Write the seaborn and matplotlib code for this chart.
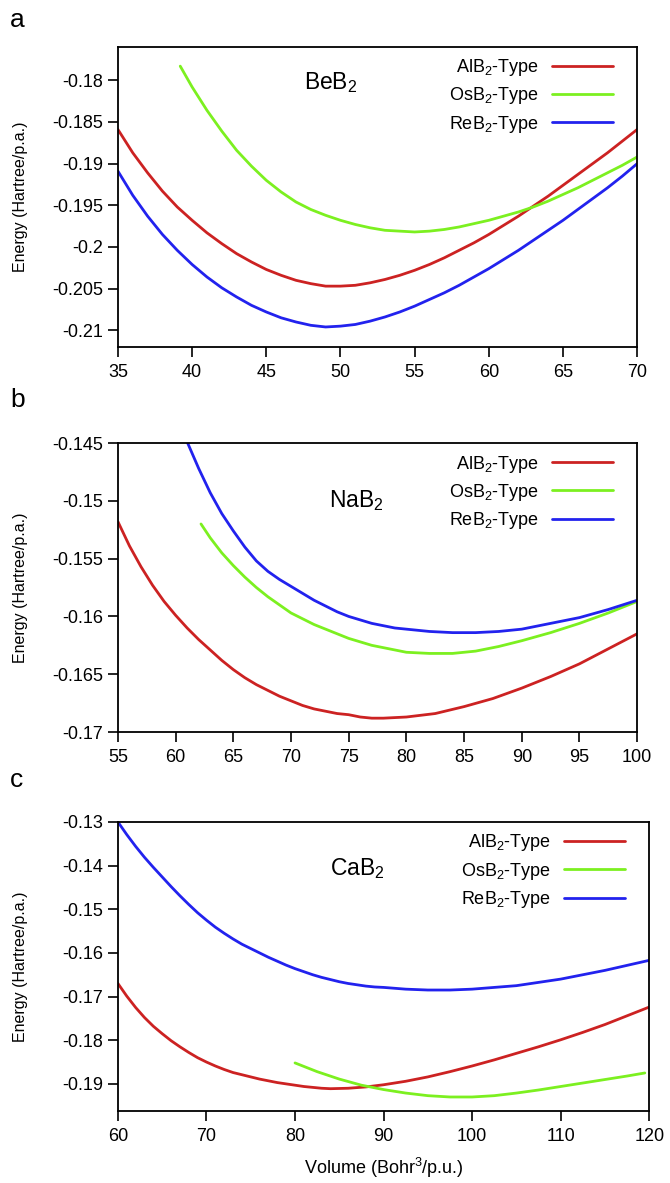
import numpy as np
import pandas as pd
import seaborn as sns
import matplotlib.pyplot as plt

sns.set_style("ticks")
plt.rcParams['font.family'] = ['Liberation Sans', 'DejaVu Sans']
plt.rcParams['mathtext.fontset'] = 'custom'
plt.rcParams['mathtext.rm'] = 'Liberation Sans'
plt.rcParams['mathtext.it'] = 'Liberation Sans'
for key in ['text.color', 'axes.labelcolor', 'xtick.color', 'ytick.color', 'axes.edgecolor']:
    plt.rcParams[key] = 'black'

types = [r'AlB$_2$-Type', r'OsB$_2$-Type', r'ReB$_2$-Type']
colors = ['#cc2222', '#7cf020', '#2222ee']

# BeB2
be_al_v = [35, 36, 37, 38, 39, 40, 41, 42, 43, 44, 45, 46, 47, 48, 49, 50, 51, 52, 53, 54, 55,
           56, 57, 58, 59, 60, 61, 62, 63, 64, 65, 66, 67, 68, 69, 70]
be_al_e = [-0.1859, -0.1887, -0.1911, -0.1933, -0.1952, -0.1968, -0.1983, -0.1996, -0.2008,
           -0.2018, -0.2027, -0.2034, -0.2040, -0.2044, -0.2047, -0.2047, -0.2046, -0.2043,
           -0.2039, -0.2034, -0.2028, -0.2021, -0.2013, -0.2004, -0.1995, -0.1985, -0.1974,
           -0.1963, -0.1951, -0.1939, -0.1926, -0.1913, -0.1900, -0.1887, -0.1873, -0.1859]
be_os_v = [39.2, 40, 41, 42, 43, 44, 45, 46, 47, 48, 49, 50, 51, 52, 53, 54, 55, 56, 57, 58,
           59, 60, 61, 62, 63, 64, 65, 66, 67, 68, 69, 70]
be_os_e = [-0.1783, -0.1808, -0.1836, -0.1861, -0.1884, -0.1903, -0.1920, -0.1934, -0.1946,
           -0.1955, -0.1962, -0.1968, -0.1973, -0.1977, -0.1980, -0.1981, -0.1982, -0.1981,
           -0.1979, -0.1976, -0.1972, -0.1968, -0.1963, -0.1958, -0.1952, -0.1945, -0.1937,
           -0.1929, -0.1920, -0.1911, -0.1902, -0.1892]
be_re_v = [35, 36, 37, 38, 39, 40, 41, 42, 43, 44, 45, 46, 47, 48, 49, 50, 51, 52, 53, 54, 55,
           56, 57, 58, 59, 60, 61, 62, 63, 64, 65, 66, 67, 68, 69, 70]
be_re_e = [-0.1909, -0.1938, -0.1963, -0.1985, -0.2004, -0.2021, -0.2036, -0.2049, -0.2060,
           -0.2070, -0.2078, -0.2085, -0.2090, -0.2094, -0.2096, -0.2095, -0.2093, -0.2089,
           -0.2084, -0.2078, -0.2071, -0.2063, -0.2055, -0.2046, -0.2036, -0.2026, -0.2015,
           -0.2004, -0.1992, -0.1980, -0.1968, -0.1955, -0.1942, -0.1929, -0.1915, -0.1900]

# NaB2
na_al_v = [55, 56, 57, 58, 59, 60, 61, 62, 63, 64, 65, 66, 67, 68, 69, 70, 71, 72, 73, 74, 75,
           76, 77, 78, 80, 82.5, 85, 87.5, 90, 92.5, 95, 97.5, 100]
na_al_e = [-0.1518, -0.1539, -0.1557, -0.1573, -0.1587, -0.1599, -0.1610, -0.1620, -0.1629,
           -0.1638, -0.1646, -0.1653, -0.1659, -0.1664, -0.1669, -0.1673, -0.1677, -0.1680,
           -0.1682, -0.1684, -0.1685, -0.1687, -0.1688, -0.1688, -0.1687, -0.1684, -0.1678,
           -0.1671, -0.1662, -0.1652, -0.1641, -0.1628, -0.1615]
na_os_v = [62.2, 63, 64, 65, 66, 67, 68, 69, 70, 71, 72, 73, 74, 75, 76, 77, 78, 79, 80, 82, 84,
           86, 88, 90, 92.5, 95, 97.5, 100]
na_os_e = [-0.1520, -0.1532, -0.1545, -0.1556, -0.1566, -0.1575, -0.1583, -0.1590, -0.1597,
           -0.1602, -0.1607, -0.1611, -0.1615, -0.1619, -0.1622, -0.1625, -0.1627, -0.1629,
           -0.1631, -0.1632, -0.1632, -0.1630, -0.1626, -0.1621, -0.1614, -0.1606, -0.1597, -0.1587]
na_re_v = [60, 61, 62, 63, 64, 65, 66, 67, 68, 69, 70, 71, 72, 73, 74, 75, 76, 77, 78, 79, 80,
           82, 84, 86, 88, 90, 92.5, 95, 97.5, 100]
na_re_e = [-0.1426, -0.1449, -0.1472, -0.1493, -0.1511, -0.1526, -0.1540, -0.1552, -0.1561,
           -0.1568, -0.1574, -0.1580, -0.1586, -0.1591, -0.1596, -0.1600, -0.1603, -0.1606,
           -0.1608, -0.1610, -0.1611, -0.1613, -0.1614, -0.1614, -0.1613, -0.1611, -0.1606,
           -0.1601, -0.1594, -0.1586]

# CaB2
ca_al_v = [60, 61, 62, 63, 64, 65, 66, 67, 68, 69, 70, 71, 72, 73, 74, 75, 76, 77, 78, 79, 80,
           81, 82, 83, 84, 86, 88, 90, 92.5, 95, 97.5, 100, 102.5, 105, 107.5, 110, 112.5,
           115, 117.5, 120]
ca_al_e = [-0.1670, -0.1699, -0.1725, -0.1748, -0.1768, -0.1785, -0.1801, -0.1815, -0.1828,
           -0.1840, -0.1850, -0.1859, -0.1867, -0.1874, -0.1879, -0.1884, -0.1889, -0.1893,
           -0.1897, -0.1900, -0.1903, -0.1906, -0.1908, -0.1910, -0.1911, -0.1910, -0.1907,
           -0.1902, -0.1894, -0.1884, -0.1872, -0.1859, -0.1845, -0.1830, -0.1815, -0.1799,
           -0.1782, -0.1764, -0.1744, -0.1724]
ca_os_v = [80, 82.5, 85, 87.5, 90, 92.5, 95, 97.5, 100, 102.5, 105, 107.5, 110, 112.5, 115,
           117.5, 119.5]
ca_os_e = [-0.1852, -0.1872, -0.1889, -0.1903, -0.1913, -0.1921, -0.1927, -0.1930, -0.1930,
           -0.1927, -0.1921, -0.1914, -0.1906, -0.1898, -0.1890, -0.1882, -0.1875]
ca_re_v = [60, 61, 62, 63, 64, 65, 66, 67, 68, 69, 70, 71, 72, 73, 74, 75, 76, 77, 78, 79, 80,
           81, 82, 83, 84, 85, 86, 87, 88, 89, 90, 92.5, 95, 97.5, 100, 105, 110, 115, 120]
ca_re_e = [-0.1300, -0.1329, -0.1356, -0.1381, -0.1404, -0.1426, -0.1448, -0.1469, -0.1489,
           -0.1508, -0.1525, -0.1541, -0.1555, -0.1568, -0.1580, -0.1590, -0.1600, -0.1610,
           -0.1619, -0.1628, -0.1636, -0.1643, -0.1650, -0.1656, -0.1661, -0.1666, -0.1670,
           -0.1673, -0.1676, -0.1678, -0.1679, -0.1683, -0.1685, -0.1685, -0.1683, -0.1675,
           -0.1660, -0.1640, -0.1617]

panels = [
    dict(letter='a', name=r'BeB$_2$', series=[(be_al_v, be_al_e), (be_os_v, be_os_e), (be_re_v, be_re_e)],
         xlim=(35, 70), ylim=(-0.212, -0.176), xticks=np.arange(35, 71, 5),
         yticks=[-0.18, -0.185, -0.19, -0.195, -0.2, -0.205, -0.21],
         rect=[0.176, 0.7067, 0.775, 0.2536], tpos=(0.41, 0.88), lpos=0.983),
    dict(letter='b', name=r'NaB$_2$', series=[(na_al_v, na_al_e), (na_os_v, na_os_e), (na_re_v, na_re_e)],
         xlim=(55, 100), ylim=(-0.17, -0.145), xticks=np.arange(55, 101, 5),
         yticks=[-0.145, -0.15, -0.155, -0.16, -0.165, -0.17],
         rect=[0.176, 0.3812, 0.775, 0.2443], tpos=(0.46, 0.80), lpos=0.662),
    dict(letter='c', name=r'CaB$_2$', series=[(ca_al_v, ca_al_e), (ca_os_v, ca_os_e), (ca_re_v, ca_re_e)],
         xlim=(60, 120), ylim=(-0.1962, -0.13), xticks=np.arange(60, 121, 10),
         yticks=[-0.13, -0.14, -0.15, -0.16, -0.17, -0.18, -0.19],
         rect=[0.176, 0.0609, 0.793, 0.2443], tpos=(0.45, 0.84), lpos=0.3405),
]

fig = plt.figure(figsize=(6.70, 11.83), dpi=100)

for p in panels:
    ax = fig.add_axes(p['rect'])
    frames = []
    for label, (v, e) in zip(types, p['series']):
        frames.append(pd.DataFrame({'Volume': v, 'Energy': e, 'Type': label}))
    df = pd.concat(frames, ignore_index=True)
    sns.lineplot(data=df, x='Volume', y='Energy', hue='Type', palette=colors,
                 sort=False, linewidth=2.0, ax=ax)
    for ln in ax.lines:
        ln.set_solid_joinstyle('round')
    ax.set_xlim(*p['xlim'])
    ax.set_ylim(*p['ylim'])
    ax.set_xticks(p['xticks'])
    ax.set_yticks(p['yticks'])
    ax.set_yticklabels([f'{t:g}' for t in p['yticks']])
    for s in ax.spines.values():
        s.set_linewidth(1.3)
        s.set_color('black')
        s.set_visible(True)
    ax.tick_params(direction='out', length=7, width=1.2, labelsize=13, top=False, right=False,
                   color='black', labelcolor='black')
    ax.tick_params(axis='x', pad=5)
    ax.set_ylabel('Energy (Hartree/p.a.)', fontsize=11.5, color='black')
    # label sits with its right edge near x = 28 px of the figure
    ax.yaxis.set_label_coords(-(118 - 28) / (p['rect'][2] * 670), 0.5)
    ax.set_xlabel('')
    ax.text(p['tpos'][0], p['tpos'][1], p['name'], transform=ax.transAxes,
            ha='center', va='center', fontsize=16.5, color='black')
    leg = ax.legend(loc='upper right', bbox_to_anchor=(0.985, 1.02), frameon=False,
                    markerfirst=False, fontsize=13, handlelength=3.4, labelspacing=0.4,
                    handletextpad=0.7)
    for t in leg.get_texts():
        t.set_color('black')
    fig.text(0.015, p['lpos'], p['letter'], fontsize=19, va='center', ha='left', color='black')

fig.axes[-1].set_xlabel('Volume (Bohr$^3$/p.u.)', fontsize=13, labelpad=8, color='black')

fig.savefig('out.png', dpi=100)
